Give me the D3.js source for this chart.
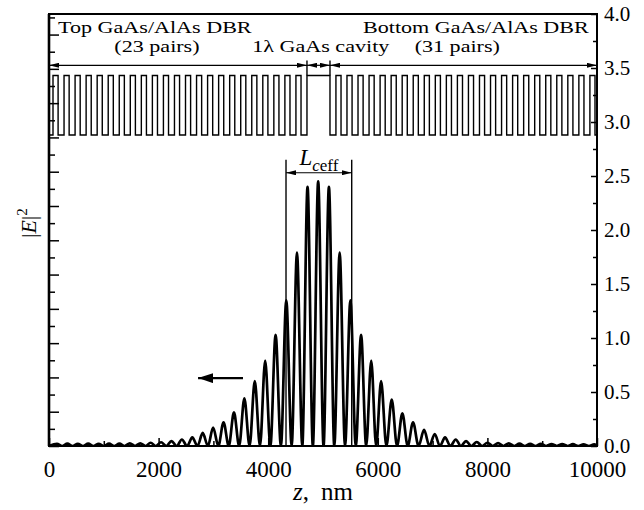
<!DOCTYPE html>
<meta charset="utf-8">
<script src="https://d3js.org/d3.v7.min.js"></script>
<style>
    body { margin: 0; background: #fff; }
    text { font-family: "Liberation Serif", "Times New Roman", serif; fill: #000; }
</style>

<body>
    <div id="chart"></div>
</body>
<script>

    // tick labels
    var zTicks = [0, 2000, 4000, 6000, 8000, 10000];
    var zMinor = [1000, 3000, 5000, 7000, 9000];
    var nTicks = [0, 0.5, 1, 1.5, 2, 2.5, 3, 3.5, 4];
    var nMinor = [0.25, 0.75, 1.25, 1.75, 2.25, 2.75, 3.25, 3.75];
    var eMajor = [0, 1, 2, 3, 4, 5, 6, 7, 8, 9, 10, 11, 12];
    var eMinor = [0.5, 1.5, 2.5, 3.5, 4.5, 5.5, 6.5, 7.5, 8.5, 9.5, 10.5, 11.5, 12.5];

    // layer structure, nm, and refractive index
    var nGaAs = 3.43, nAlAs = 2.88;
    var dGaAs = 93, dAlAs = 108.5;
    var dCap = 73, dCavity = 420;
    var topPairs = 23, bottomPairs = 31;

    // |E|^2 maxima
    var peakZ = [145, 335, 525, 715, 905, 1095, 1285, 1475, 1665, 1855, 2045, 2235, 2425, 2615, 2805,
        2995, 3185, 3375, 3565, 3755, 3945, 4135, 4330, 4525, 4718, 4912, 5108, 5304, 5500, 5695,
        5880, 6060, 6254, 6448, 6643, 6844, 7039, 7227, 7422, 7610, 7806, 8000, 8195, 8390, 8585,
        8780, 8975, 9170, 9365, 9560, 9755, 9950];
    var peakE = [0.063, 0.069, 0.063, 0.069, 0.063, 0.069, 0.069, 0.079, 0.079, 0.095, 0.11, 0.142, 0.19, 0.25, 0.38,
        0.54, 0.69, 0.98, 1.39, 1.89, 2.49, 3.24, 4.25, 5.64, 7.56, 7.72, 7.56, 5.64, 4.25, 3.24,
        2.49, 1.89, 1.35, 0.95, 0.69, 0.47, 0.35, 0.25, 0.19, 0.145, 0.117, 0.095, 0.085, 0.076, 0.069,
        0.063, 0.063, 0.057, 0.057, 0.054, 0.05, 0.05];
    // nodes (|E|^2 ~ 0)
    var nodeZ = [0, 240, 430, 620, 810, 1000, 1190, 1380, 1570, 1760, 1950, 2140, 2330, 2520, 2710,
        2900, 3090, 3280, 3470, 3660, 3850, 4040, 4232, 4428, 4622, 4815, 5010, 5206, 5402, 5598,
        5788, 5970, 6157, 6351, 6546, 6744, 6942, 7133, 7325, 7516, 7708, 7903, 8098, 8293, 8488,
        8683, 8878, 9073, 9268, 9463, 9658, 9853, 10000];

    // effective cavity length limits
    var lceff = [4325, 5524];

    var W = 644, H = 510;
    var margin = { top: 14, right: 47, bottom: 64, left: 49 };

    var svg = d3.select("#chart").append("svg")
        .attr("width", W)
        .attr("height", H);

    var x = d3.scaleLinear().domain([0, 10000]).range([margin.left, W - margin.right]);
    var yN = d3.scaleLinear().domain([0, 4]).range([H - margin.bottom, margin.top]);
    var yE = d3.scaleLinear().domain([0, 12.6]).range([H - margin.bottom, margin.top]);

    var defs = svg.append("defs");
    defs.append("clipPath").attr("id", "plot")
        .append("rect")
        .attr("x", margin.left).attr("y", margin.top)
        .attr("width", x.range()[1] - x.range()[0])
        .attr("height", yN.range()[0] - yN.range()[1]);

    function marker(id, len, wid) {
        defs.append("marker")
            .attr("id", id)
            .attr("viewBox", "0 0 " + len + " " + wid)
            .attr("refX", len).attr("refY", wid / 2)
            .attr("markerWidth", len).attr("markerHeight", wid)
            .attr("markerUnits", "userSpaceOnUse")
            .attr("orient", "auto-start-reverse")
            .append("path")
            .attr("d", "M0,0L" + len + "," + wid / 2 + "L0," + wid + "z")
            .attr("fill", "#000");
    }
    marker("head", 10, 5);
    marker("big", 15, 10);

    // refractive index profile
    var layers = [[dCap, nAlAs]];
    for (var i = 0; i < topPairs; i++) { layers.push([dGaAs, nGaAs]); layers.push([dAlAs, nAlAs]); }
    layers.push([dCavity, nGaAs]);
    for (var j = 0; j < bottomPairs; j++) { layers.push([dAlAs, nAlAs]); layers.push([dGaAs, nGaAs]); }
    var profile = [];
    var zz = 0;
    layers.forEach(function (l) { profile.push([zz, l[1]]); zz += l[0]; });
    profile.push([zz, layers[layers.length - 1][1]]);

    svg.append("path")
        .datum(profile)
        .attr("clip-path", "url(#plot)")
        .attr("fill", "none")
        .attr("stroke", "#000")
        .attr("stroke-width", 1.4)
        .attr("d", d3.line()
            .x(function (d) { return x(d[0]) })
            .y(function (d) { return yN(d[1]) })
            .curve(d3.curveStepAfter));

    // |E|^2 curve
    var ePts = peakZ.map(function (z, i) { return [z, peakE[i]] })
        .concat(nodeZ.map(function (z) { return [z, 0] }))
        .sort(function (a, b) { return a[0] - b[0] });

    svg.append("path")
        .datum(ePts)
        .attr("clip-path", "url(#plot)")
        .attr("fill", "none")
        .attr("stroke", "#000")
        .attr("stroke-width", 2.7)
        .attr("stroke-linejoin", "round")
        .attr("d", d3.line()
            .x(function (d) { return x(d[0]) })
            .y(function (d) { return yE(d[1]) })
            .curve(d3.curveMonotoneX));

    // axes
    var bottom = svg.append("g")
        .attr("transform", "translate(0," + yN.range()[0] + ")")
        .call(d3.axisBottom(x).tickValues(zTicks).tickSizeInner(-8).tickSizeOuter(0).tickPadding(15)
            .tickFormat(d3.format("d")));
    bottom.append("g")
        .call(d3.axisBottom(x).tickValues(zMinor).tickSize(-5).tickFormat(""));
    bottom.selectAll("text").style("font-size", "23px");

    var right = svg.append("g")
        .attr("transform", "translate(" + x.range()[1] + ",0)")
        .call(d3.axisRight(yN).tickValues(nTicks).tickSizeInner(-6).tickSizeOuter(0).tickPadding(7)
            .tickFormat(d3.format(".1f")));
    right.append("g")
        .call(d3.axisRight(yN).tickValues(nMinor).tickSize(-4).tickFormat(""));
    right.selectAll("text").style("font-size", "21px");

    var left = svg.append("g")
        .attr("transform", "translate(" + x.range()[0] + ",0)")
        .call(d3.axisLeft(yE).tickValues(eMajor).tickSize(-10).tickFormat(""));
    left.append("g")
        .call(d3.axisLeft(yE).tickValues(eMinor).tickSize(-6).tickFormat(""));

    svg.selectAll(".domain").remove();
    svg.selectAll(".tick line").attr("stroke-width", 1.5);

    svg.append("rect")
        .attr("x", x.range()[0]).attr("y", yN.range()[1])
        .attr("width", x.range()[1] - x.range()[0])
        .attr("height", yN.range()[0] - yN.range()[1])
        .attr("fill", "none")
        .attr("stroke", "#000")
        .attr("stroke-width", 2);
    svg.append("line")
        .attr("x1", x.range()[0]).attr("x2", x.range()[0])
        .attr("y1", yN.range()[1]).attr("y2", yN.range()[0])
        .attr("stroke", "#000").attr("stroke-width", 2.6);

    // stretched serif text, like the print
    function label(px, py, anchor, size) {
        return svg.append("text")
            .attr("transform", "translate(" + px + "," + py + ") scale(1.3,1)")
            .attr("text-anchor", anchor)
            .style("font-size", size + "px");
    }

    var zTop = dCap + topPairs * (dGaAs + dAlAs);
    var zCav = zTop + dCavity;

    label(x(165), yN(3.825), "start", 17).text("Top GaAs/AlAs DBR");
    label(x(1970), yN(3.645), "middle", 17).text("(23 pairs)");
    label(x(4960), yN(3.645), "middle", 17).text("1\u03bb GaAs cavity");
    label(x(9850), yN(3.825), "end", 17).text("Bottom GaAs/AlAs DBR");
    label(x(7450), yN(3.645), "middle", 17).text("(31 pairs)");

    // layer arrows
    var rowN = 3.525;
    [[0, zTop], [zTop, zCav], [zCav, 10000]].forEach(function (s) {
        svg.append("line")
            .attr("x1", x(s[0])).attr("x2", x(s[1]))
            .attr("y1", yN(rowN)).attr("y2", yN(rowN))
            .attr("stroke", "#000").attr("stroke-width", 1.2)
            .attr("marker-start", "url(#head)")
            .attr("marker-end", "url(#head)");
    });
    [zTop, zCav].forEach(function (z) {
        svg.append("line")
            .attr("x1", x(z)).attr("x2", x(z))
            .attr("y1", yN(3.57)).attr("y2", yN(nGaAs))
            .attr("stroke", "#000").attr("stroke-width", 1.4);
    });

    // L_ceff
    lceff.forEach(function (z) {
        svg.append("line")
            .attr("x1", x(z)).attr("x2", x(z))
            .attr("y1", yN(2.65)).attr("y2", yN(0))
            .attr("stroke", "#000").attr("stroke-width", 1.4);
    });
    svg.append("line")
        .attr("x1", x(lceff[0])).attr("x2", x(lceff[1]))
        .attr("y1", yN(2.53)).attr("y2", yN(2.53))
        .attr("stroke", "#000").attr("stroke-width", 1.2)
        .attr("marker-start", "url(#head)")
        .attr("marker-end", "url(#head)");
    var lt = svg.append("text")
        .attr("x", x((lceff[0] + lceff[1]) / 2))
        .attr("y", yN(2.6))
        .attr("text-anchor", "middle")
        .style("font-size", "23px");
    lt.append("tspan").style("font-style", "italic").text("L");
    lt.append("tspan").style("font-style", "italic").style("font-size", "17px").attr("dy", 6).text("c");
    lt.append("tspan").style("font-size", "17px").text("eff");

    // arrow towards left axis
    svg.append("line")
        .attr("x1", x(3540)).attr("x2", x(2720))
        .attr("y1", yE(1.98)).attr("y2", yE(1.98))
        .attr("stroke", "#000").attr("stroke-width", 2.4)
        .attr("marker-end", "url(#big)");

    // axis titles
    var yl = svg.append("text")
        .attr("transform", "translate(36," + yE(6.5) + ") rotate(-90)")
        .attr("text-anchor", "middle")
        .style("font-size", "22px");
    yl.append("tspan").text("|");
    yl.append("tspan").style("font-style", "italic").text("E");
    yl.append("tspan").text("|");
    yl.append("tspan").style("font-size", "15px").attr("dy", -9).text("2");

    var xl = svg.append("text")
        .attr("x", x(5000))
        .attr("y", H - 10)
        .attr("text-anchor", "middle")
        .style("font-size", "25px");
    xl.append("tspan").style("font-style", "italic").text("z");
    xl.append("tspan").text(",");
    xl.append("tspan").attr("dx", 12).text("nm");

</script>
